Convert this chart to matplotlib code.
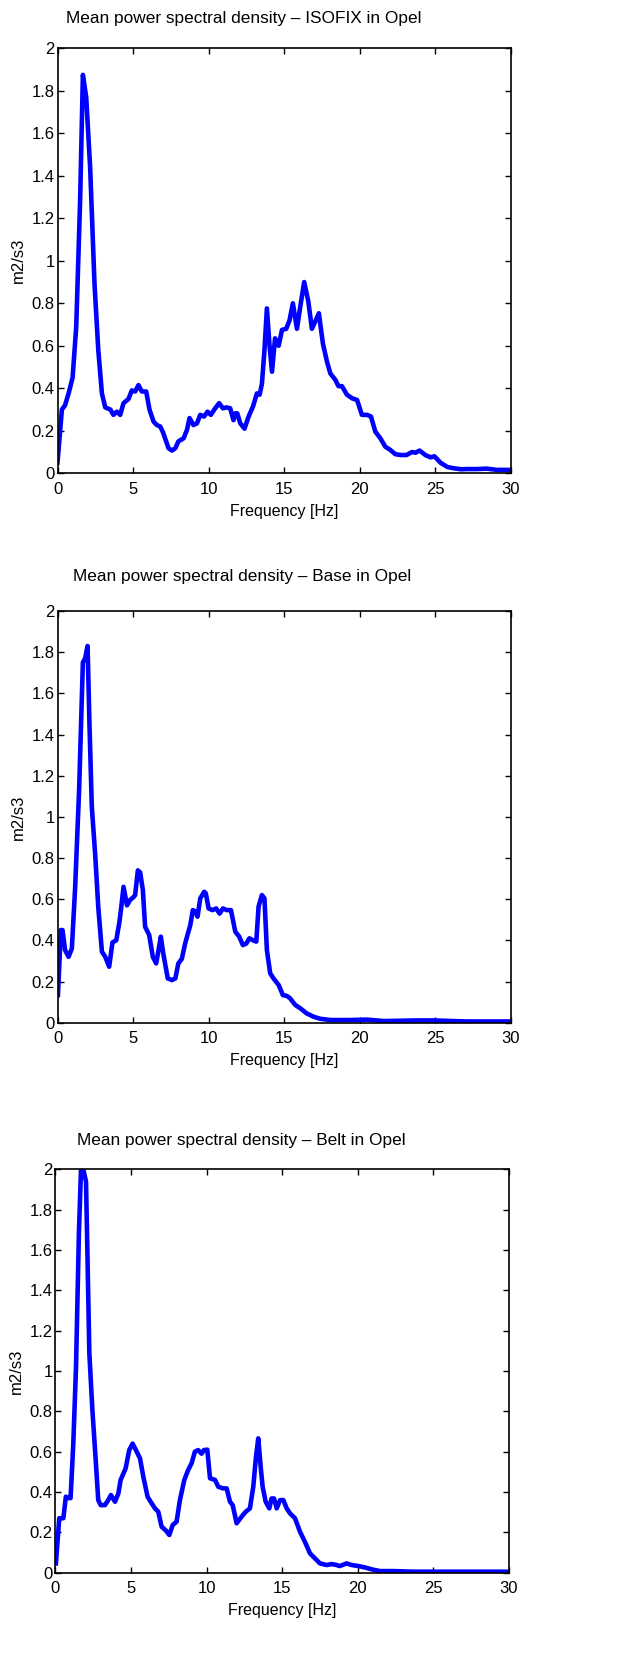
import matplotlib
matplotlib.use('Agg')
import matplotlib.pyplot as plt

plt.rcParams['font.family'] = ['Liberation Sans', 'DejaVu Sans']

TITLES = ['Mean power spectral density \u2013 ISOFIX in Opel',
          'Mean power spectral density \u2013 Base in Opel',
          'Mean power spectral density \u2013 Belt in Opel']

# ISOFIX
isofix_f = [0, 0.29, 0.5, 0.75, 1.0, 1.24, 1.5, 1.68, 1.9, 2.16, 2.45, 2.7, 2.94, 3.16, 3.5, 3.7, 3.93,
            4.15, 4.37, 4.7, 4.92, 5.14, 5.36, 5.58, 5.87, 6.09, 6.36, 6.58, 6.8, 7.0, 7.35, 7.57, 7.8,
            8.0, 8.35, 8.57, 8.74, 9.0, 9.23, 9.45, 9.7, 9.93, 10.15, 10.44, 10.7, 10.95, 11.2, 11.43,
            11.65, 11.77, 11.9, 12.1, 12.38, 12.65, 12.94, 13.2, 13.38, 13.53, 13.7, 13.86, 14.04, 14.2,
            14.4, 14.64, 14.86, 15.14, 15.36, 15.58, 15.85, 16.07, 16.33, 16.6, 16.84, 17.06, 17.3,
            17.57, 17.84, 18.06, 18.39, 18.6, 18.83, 19.16, 19.5, 19.83, 20.15, 20.49, 20.75, 21.04,
            21.37, 21.7, 22.03, 22.36, 22.7, 23.1, 23.47, 23.7, 23.97, 24.35, 24.7, 24.95, 25.35, 25.8,
            26.2, 26.7, 27.1, 27.8, 28.4, 29.1, 30]
isofix_p = [0.05, 0.30, 0.32, 0.38, 0.45, 0.69, 1.29, 1.875, 1.77, 1.44, 0.89, 0.58, 0.376, 0.31, 0.30,
            0.275, 0.29, 0.275, 0.33, 0.35, 0.39, 0.385, 0.415, 0.385, 0.385, 0.30, 0.243, 0.227, 0.22,
            0.19, 0.118, 0.107, 0.118, 0.15, 0.165, 0.204, 0.26, 0.227, 0.235, 0.275, 0.267, 0.29,
            0.275, 0.306, 0.33, 0.306, 0.31, 0.306, 0.25, 0.282, 0.282, 0.235, 0.21, 0.267, 0.314,
            0.376, 0.37, 0.42, 0.58, 0.776, 0.596, 0.478, 0.635, 0.60, 0.675, 0.68, 0.72, 0.80, 0.68,
            0.784, 0.90, 0.81, 0.68, 0.714, 0.753, 0.61, 0.525, 0.47, 0.44, 0.41, 0.41, 0.37, 0.353,
            0.345, 0.275, 0.275, 0.267, 0.196, 0.165, 0.125, 0.11, 0.09, 0.086, 0.086, 0.10, 0.097,
            0.107, 0.086, 0.075, 0.08, 0.05, 0.03, 0.024, 0.019, 0.02, 0.02, 0.022, 0.016, 0.016]

# Base
base_f = [0.03, 0.22, 0.33, 0.5, 0.73, 0.95, 1.17, 1.43, 1.68, 1.83, 1.99, 2.12, 2.27, 2.5, 2.7, 2.94,
          3.16, 3.42, 3.64, 3.89, 4.1, 4.22, 4.37, 4.6, 4.8, 5.03, 5.14, 5.32, 5.47, 5.65, 5.8, 6.07,
          6.31, 6.53, 6.69, 6.84, 7.0, 7.3, 7.57, 7.8, 8.0, 8.23, 8.45, 8.79, 8.96, 9.12, 9.27, 9.45,
          9.71, 9.82, 10.0, 10.26, 10.5, 10.73, 10.95, 11.2, 11.48, 11.77, 12.03, 12.27, 12.5, 12.7,
          12.94, 13.16, 13.31, 13.53, 13.7, 13.86, 14.08, 14.3, 14.64, 14.92, 15.19, 15.4, 15.74,
          16.07, 16.5, 16.95, 17.4, 18.06, 19.4, 20.5, 21.6, 23.8, 24.9, 27.1, 30]
base_p = [0.134, 0.45, 0.45, 0.353, 0.32, 0.36, 0.66, 1.13, 1.75, 1.77, 1.83, 1.44, 1.05, 0.81, 0.56,
          0.345, 0.32, 0.272, 0.39, 0.40, 0.49, 0.56, 0.66, 0.57, 0.596, 0.61, 0.62, 0.74, 0.73, 0.645,
          0.466, 0.426, 0.32, 0.288, 0.353, 0.418, 0.337, 0.215, 0.207, 0.215, 0.288, 0.31, 0.385,
          0.474, 0.547, 0.54, 0.515, 0.604, 0.636, 0.628, 0.555, 0.547, 0.555, 0.53, 0.555, 0.547,
          0.547, 0.442, 0.418, 0.377, 0.385, 0.41, 0.40, 0.394, 0.564, 0.62, 0.604, 0.353, 0.24,
          0.215, 0.183, 0.134, 0.13, 0.118, 0.086, 0.07, 0.045, 0.029, 0.019, 0.013, 0.013, 0.015,
          0.008, 0.011, 0.011, 0.006, 0.006]

# Belt
belt_f = [0.04, 0.26, 0.42, 0.53, 0.7, 0.86, 1.01, 1.19, 1.37, 1.56, 1.7, 1.85, 2.03, 2.14, 2.25, 2.45,
          2.67, 2.84, 3.0, 3.28, 3.5, 3.68, 3.95, 4.17, 4.32, 4.65, 4.89, 5.11, 5.33, 5.6, 5.82, 6.1,
          6.37, 6.59, 6.81, 7.03, 7.3, 7.54, 7.76, 8.02, 8.24, 8.53, 8.79, 9.01, 9.23, 9.45, 9.67,
          9.83, 10.05, 10.23, 10.56, 10.78, 11.1, 11.33, 11.55, 11.73, 11.99, 12.32, 12.59, 12.87,
          13.09, 13.27, 13.42, 13.58, 13.71, 13.91, 14.15, 14.3, 14.46, 14.64, 14.86, 15.08, 15.3,
          15.52, 15.85, 16.18, 16.5, 16.84, 17.17, 17.5, 17.94, 18.27, 18.6, 18.8, 19.26, 19.6,
          20.04, 20.48, 20.9, 21.47, 22.35, 23.67, 30]
belt_p = [0.046, 0.27, 0.27, 0.27, 0.377, 0.37, 0.37, 0.64, 1.02, 1.68, 2.0, 2.0, 1.94, 1.52, 1.09, 0.81,
          0.56, 0.36, 0.335, 0.335, 0.36, 0.385, 0.352, 0.393, 0.46, 0.517, 0.608, 0.64, 0.608, 0.567,
          0.476, 0.377, 0.344, 0.319, 0.302, 0.228, 0.21, 0.187, 0.236, 0.253, 0.36, 0.46, 0.51,
          0.542, 0.60, 0.608, 0.59, 0.608, 0.61, 0.468, 0.46, 0.426, 0.418, 0.418, 0.352, 0.335,
          0.245, 0.278, 0.302, 0.319, 0.426, 0.575, 0.666, 0.525, 0.426, 0.352, 0.319, 0.368, 0.368,
          0.319, 0.36, 0.36, 0.319, 0.294, 0.27, 0.203, 0.154, 0.096, 0.071, 0.046, 0.038, 0.043,
          0.038, 0.033, 0.046, 0.038, 0.033, 0.026, 0.017, 0.008, 0.008, 0.005, 0.005]

X_TICKS = [0, 5, 10, 15, 20, 25, 30]
Y_TICKS = [0, 0.2, 0.4, 0.6, 0.8, 1, 1.2, 1.4, 1.6, 1.8, 2]
Y_TICK_LABELS = ['0', '0.2', '0.4', '0.6', '0.8', '1', '1.2', '1.4', '1.6', '1.8', '2']

W, H = 644, 1666
fig = plt.figure(figsize=(W / 100, H / 100), dpi=100)

# axes boxes in pixels: left, top, right, bottom
boxes = [(57.5, 48.3, 510.7, 473.3),
         (57.5, 611.0, 510.7, 1022.7),
         (55.3, 1169.3, 509.0, 1572.7)]
title_pos = [(244, 18), (242, 577), (241, 1141)]
series = [(isofix_f, isofix_p), (base_f, base_p), (belt_f, belt_p)]

for i in range(3):
    l, t, r, b = boxes[i]
    ax = fig.add_axes([l / W, 1 - b / H, (r - l) / W, (b - t) / H])
    f, p = series[i]
    ax.plot(f, p, color='#0000ff', linewidth=3.3, solid_joinstyle='round')
    ax.set_xlim(0, 30)
    ax.set_ylim(0, 2)
    ax.set_xticks(X_TICKS)
    ax.set_yticks(Y_TICKS)
    ax.set_yticklabels(Y_TICK_LABELS)
    ax.tick_params(direction='in', top=True, right=True, length=4, width=1,
                   labelsize=12, colors='black')
    ax.tick_params(axis='x', pad=6)
    ax.tick_params(axis='y', pad=2)
    for s in ax.spines.values():
        s.set_linewidth(1.2)
    ax.set_xlabel('Frequency [Hz]', fontsize=11.5, labelpad=5)
    ax.set_ylabel('m2/s3', fontsize=12, labelpad=4)
    tx, ty = title_pos[i]
    fig.text(tx / W, 1 - ty / H, TITLES[i], ha='center', va='center', fontsize=12.4)

fig.savefig('out.png', dpi=100)
